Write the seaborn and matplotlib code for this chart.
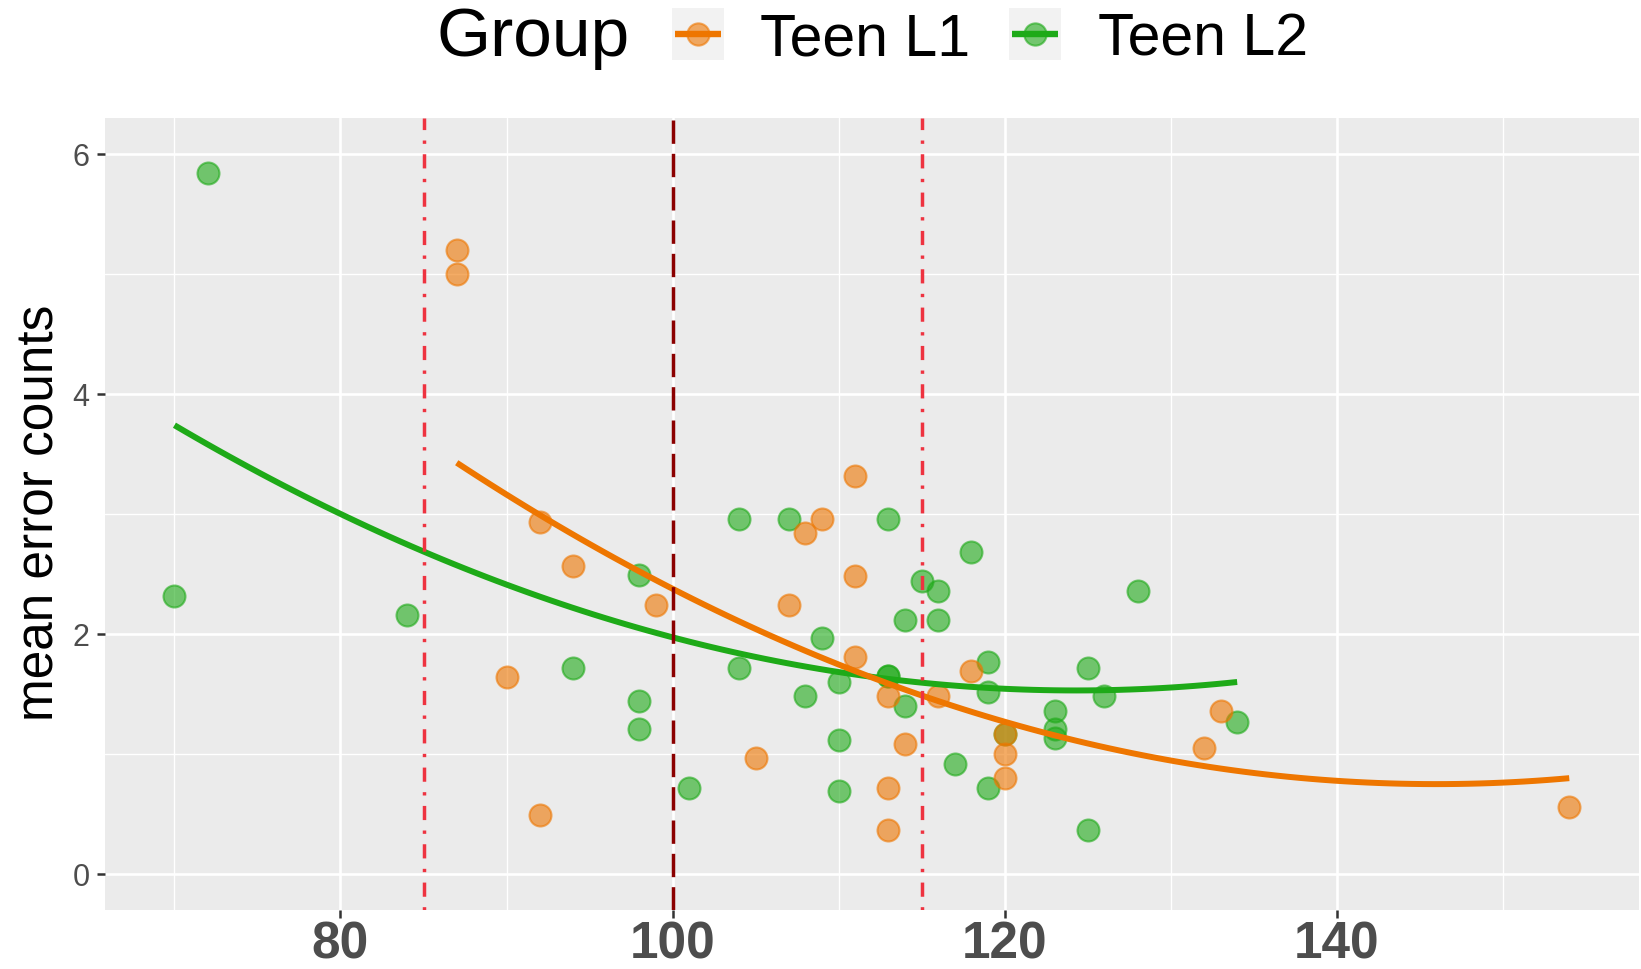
import numpy as np
import pandas as pd
import matplotlib
matplotlib.use("Agg")
import matplotlib.pyplot as plt
from matplotlib.lines import Line2D
from matplotlib.patches import Rectangle
import seaborn as sns

# ---------------- data ----------------
groups = ["Teen L1", "Teen L2"]
l1_iq = [87, 87, 90, 92, 92, 94, 99, 105, 107, 108, 109, 111, 111, 111, 113,
         113, 113, 114, 116, 118, 120, 120, 120, 132, 133, 154]
l1_err = [5.20, 5.00, 1.64, 2.93, 0.49, 2.57, 2.24, 0.965, 2.24, 2.84, 2.96,
          3.32, 2.48, 1.81, 1.48, 0.72, 0.37, 1.08, 1.48, 1.69, 1.17, 1.00,
          0.80, 1.05, 1.36, 0.56]
l2_iq = [70, 72, 84, 94, 98, 98, 98, 101, 104, 104, 107, 108, 109, 110, 110,
         110, 113, 113, 113, 114, 114, 115, 116, 116, 117, 118, 119, 119, 119,
         120, 123, 123, 123, 125, 125, 126, 128, 134]
l2_err = [2.32, 5.84, 2.16, 1.72, 2.49, 1.44, 1.21, 0.72, 2.96, 1.72, 2.96,
          1.48, 1.97, 1.60, 1.12, 0.69, 2.96, 1.65, 1.65, 2.12, 1.40, 2.44,
          2.36, 2.12, 0.92, 2.68, 1.77, 1.52, 0.72, 1.17, 1.36, 1.21, 1.13,
          1.72, 0.37, 1.48, 2.36, 1.27]
ref_lines = [85, 100, 115]
x_major = [80, 100, 120, 140]
x_minor = [70, 90, 110, 130, 150]
y_major = [0, 2, 4, 6]
y_minor = [1, 3, 5]

df = pd.concat([
    pd.DataFrame({"iq": l1_iq, "err": l1_err, "Group": groups[0]}),
    pd.DataFrame({"iq": l2_iq, "err": l2_err, "Group": groups[1]}),
], ignore_index=True)

colors = {"Teen L1": "#EE7600", "Teen L2": "#1EAA18"}

# ---------------- style ----------------
sns.set_theme(style="darkgrid")
sns.set_style("darkgrid", {"axes.facecolor": "#EBEBEB", "grid.color": "white",
                           "axes.edgecolor": "none"})
plt.rcParams["font.family"] = ["Liberation Sans", "DejaVu Sans"]
plt.rcParams["lines.scale_dashes"] = False

W, H = 1641, 969
fig = plt.figure(figsize=(W / 100, H / 100), dpi=100)
fx = lambda px: px / W
fy = lambda py: 1 - py / H

ax = fig.add_axes([fx(104.7), fy(910), fx(1639) - fx(104.7), (910 - 118) / H])

# points (green first so orange sits on top)
for g in ["Teen L2", "Teen L1"]:
    sub = df[df["Group"] == g]
    sns.scatterplot(data=sub, x="iq", y="err", color=colors[g], s=250,
                    alpha=0.6, edgecolor=colors[g], linewidth=1.5, ax=ax,
                    zorder=2)

# quadratic smooth per group
for g in ["Teen L2", "Teen L1"]:
    sub = df[df["Group"] == g]
    sns.regplot(data=sub, x="iq", y="err", order=2, ci=None, scatter=False,
                color=colors[g], line_kws=dict(lw=4.3, zorder=3,
                                               solid_capstyle="butt"), ax=ax)

# reference lines
ax.axvline(ref_lines[0], color="#EE3340", lw=2.5, zorder=4,
           dashes=(2.4, 7.5, 10.2, 7.5))
ax.axvline(ref_lines[2], color="#EE3340", lw=2.5, zorder=4,
           dashes=(2.4, 7.5, 10.2, 7.5))
ax.axvline(ref_lines[1], color="#8B0000", lw=2.5, zorder=4,
           dashes=(16.8, 7.2))

ax.set_xlim(65.8, 158.2)
ax.set_ylim(-0.3, 6.3)
ax.set_xticks(x_major)
ax.set_xticks(x_minor, minor=True)
ax.set_yticks(y_major)
ax.set_yticks(y_minor, minor=True)
ax.set_xticklabels([str(v) for v in x_major], fontsize=37, fontweight="bold",
                   color="#4D4D4D")
ax.set_yticklabels([str(v) for v in y_major], fontsize=22, color="#4D4D4D")
ax.grid(which="major", color="white", lw=1.9)
ax.grid(which="minor", color="white", lw=1.0)
ax.tick_params(which="major", length=5.8, width=1.8, color="#333333",
               bottom=True, left=True)
ax.tick_params(axis="x", which="major", pad=2)
ax.tick_params(axis="y", which="major", pad=5)
ax.tick_params(which="minor", length=0)
for s in ax.spines.values():
    s.set_visible(False)
ax.set_xlabel("")
ax.set_ylabel("")
fig.text(fx(40.5), 0.4706, "mean error counts", rotation=90, ha="center",
         va="center", fontsize=37, color="black")

# ---------------- legend (ggplot style, top) ----------------
fig.text(fx(436), fy(56), "Group", fontsize=50, va="baseline", ha="left",
         color="black")
key_specs = [("Teen L1", 672, 760), ("Teen L2", 1009, 1098)]
for g, kx, tx in key_specs:
    fig.add_artist(Rectangle((fx(kx), fy(60)), fx(kx + 52) - fx(kx), 52 / H,
                             transform=fig.transFigure, facecolor="#F2F2F2",
                             edgecolor="none"))
    fig.add_artist(Line2D([fx(kx + 26)], [fy(34)], transform=fig.transFigure,
                          marker="o", markersize=16, color=colors[g],
                          alpha=0.6, markeredgewidth=1.5, linestyle="none"))
    fig.add_artist(Line2D([fx(kx + 3), fx(kx + 49)], [fy(34), fy(34)],
                          transform=fig.transFigure, color=colors[g], lw=4.6,
                          solid_capstyle="butt"))
    fig.text(fx(tx), fy(55), g, fontsize=42.5, va="baseline", ha="left",
             color="black")

fig.savefig("out.png", dpi=100)
